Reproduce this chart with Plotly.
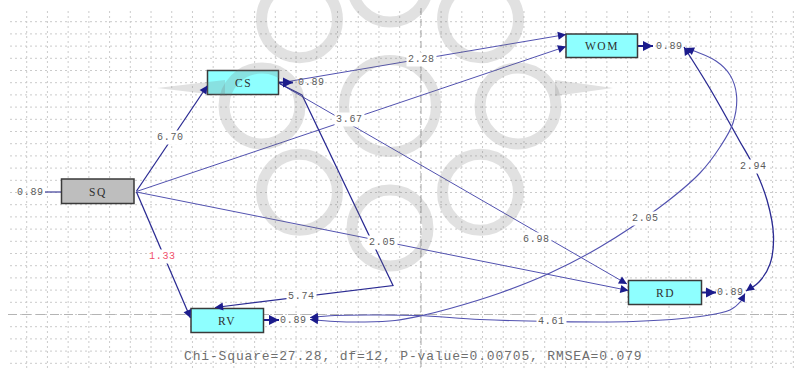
import math
import plotly.graph_objects as go

# ---------------- model estimates (t-values) ----------------
variables = ["SQ", "CS", "WOM", "RV", "RD"]
error_variances = [0.89, 0.89, 0.89, 0.89, 0.89]

path_from = ["SQ", "SQ", "SQ", "SQ", "CS", "CS", "CS"]
path_to = ["CS", "WOM", "RD", "RV", "WOM", "RD", "RV"]
path_t = [6.70, 3.67, 2.05, 1.33, 2.28, 6.98, 5.74]

cov_first = ["WOM", "WOM", "RV"]
cov_second = ["RD", "RV", "RD"]
cov_t = [2.94, 2.05, 4.61]

fit_names = ["Chi-Square", "df", "P-value", "RMSEA"]
fit_values = ["27.28", "12", "0.00705", "0.079"]

# ---------------- diagram geometry (pixel space) ----------------
W, H = 794, 370

BOXES = {  # x0, y0, x1, y1
    "SQ": (61.5, 179, 134, 203.5),
    "CS": (207.5, 70.5, 278.5, 94.5),
    "WOM": (566, 34, 637.5, 57.5),
    "RV": (191, 308.5, 263.5, 332.5),
    "RD": (628.5, 280.5, 701.5, 304.5),
}
BOX_FILL = {"SQ": "#bebebe", "CS": "#8effff", "WOM": "#8effff",
            "RV": "#8effff", "RD": "#8effff"}

ERR_GEOM = {  # label centre, arrow segment (x_from, x_to, y), arrow head
    "SQ": dict(lab=(30, 192), seg=(45, 61.5, 192), head=False),
    "CS": dict(lab=(311, 82.5), seg=(279, 293, 82.5), head=True),
    "WOM": dict(lab=(669.5, 46), seg=(638, 653, 46), head=True),
    "RV": dict(lab=(293.5, 320), seg=(264, 279, 320), head=True),
    "RD": dict(lab=(730, 292.5), seg=(702, 716, 292.5), head=True),
}

PATH_GEOM = {
    ("SQ", "CS"): dict(pts=[(136.5, 191), (207.5, 85.5)], lab=(170.5, 137)),
    ("SQ", "WOM"): dict(pts=[(136.5, 191.5), (566, 46.5)], lab=(349.5, 119.5)),
    ("SQ", "RD"): dict(pts=[(136.5, 192), (628.5, 290.5)], lab=(382.5, 242.5)),
    ("SQ", "RV"): dict(pts=[(136.5, 192), (190.5, 318)], lab=(162, 256)),
    ("CS", "WOM"): dict(pts=[(279.5, 83), (566, 34.5)], lab=(421.5, 59.5)),
    ("CS", "RD"): dict(pts=[(279.5, 83.5), (627, 284)], lab=(536.5, 239)),
    ("CS", "RV"): dict(pts=[(279.5, 83.5), (302, 95), (393, 285.5), (215, 307.5)],
                       lab=(301, 296)),
}
DARK_PATHS = {("SQ", "CS"), ("SQ", "RV"), ("CS", "RV")}

COV_GEOM = {
    ("WOM", "RD"): dict(pts=[(684, 47), (709, 87), (739, 140), (754, 167),
                             (767, 200), (773.5, 236), (770, 264), (759, 282),
                             (746, 291)], lab=(753.5, 166), dark=True),
    ("WOM", "RV"): dict(pts=[(686, 48), (716, 61), (730, 75), (736.5, 95),
                             (733, 123), (720, 147), (700, 173), (660, 207),
                             (600, 247), (550, 273), (500, 293), (450, 308.5),
                             (420, 316), (395, 320.5), (365, 322), (335, 321.5),
                             (310, 319.5)], lab=(645, 218.5), dark=False),
    ("RV", "RD"): dict(pts=[(310, 317.5), (335, 315.5), (370, 315), (418, 315.5),
                            (480, 319.5), (551, 321.5), (633, 321.5), (700, 316.5),
                            (730, 310), (741, 301), (745, 293.5)], lab=(551, 321.5),
                       dark=False),
}

LIGHT_LINE = "#5252b0"
DARK_LINE = "#2a2a92"
HEAD_COLOR = "#1c1c8c"
TEXT_GREY = "#5c5c5c"
LABEL_FONT = dict(family="Liberation Mono", size=10, color=TEXT_GREY)


def spaced(text, px):
    return f"<span style='letter-spacing:{px}px'>{text}</span>"


fig = go.Figure()
shapes, annotations = [], []

# dashed background grid
grid_x = [26.7 + 20.72 * k for k in range(38)]
grid_y = [21.7 + 12.2 * k for k in range(29)]
for gx in grid_x:
    shapes.append(dict(type="line", x0=gx, x1=gx, y0=11, y1=H, layer="below",
                       line=dict(color="#cbcbcb", width=1, dash="2px,3px")))
for gy in grid_y:
    shapes.append(dict(type="line", x0=10, x1=W, y0=gy, y1=gy, layer="below",
                       line=dict(color="#cbcbcb", width=1, dash="2px,3px")))
# centre reference lines
shapes.append(dict(type="line", x0=421, x1=421, y0=8, y1=H, layer="below",
                   line=dict(color="#a8a8a8", width=1, dash="7px,4px")))
shapes.append(dict(type="line", x0=8, x1=W, y0=314.5, y1=314.5, layer="below",
                   line=dict(color="#b4b4b4", width=1.2, dash="9px,5px")))


def arrow_head(tip, prev, color=HEAD_COLOR, size=1.35, width=1.2):
    annotations.append(dict(x=tip[0], y=tip[1], ax=prev[0], ay=prev[1],
                            xref="x", yref="y", axref="x", ayref="y", text="",
                            showarrow=True, arrowhead=2, arrowsize=size,
                            arrowwidth=width, arrowcolor=color, standoff=0))


def back_point(pts, dist=9.0):
    (x1, y1), (x0, y0) = pts[-1], pts[-2]
    d = math.hypot(x1 - x0, y1 - y0)
    return (x1 - (x1 - x0) * dist / d, y1 - (y1 - y0) * dist / d)


def value_label(pos, value, color=TEXT_GREY):
    annotations.append(dict(x=pos[0], y=pos[1], xref="x", yref="y",
                            text=spaced(f"{value:.2f}", 0.7), showarrow=False,
                            font=dict(LABEL_FONT, color=color),
                            bgcolor="white", borderpad=1))


# structural paths
for src, dst, t in zip(path_from, path_to, path_t):
    g = PATH_GEOM[(src, dst)]
    xs, ys = zip(*g["pts"])
    dark = (src, dst) in DARK_PATHS
    fig.add_trace(go.Scatter(x=xs, y=ys, mode="lines", hoverinfo="skip",
                             line=dict(color=DARK_LINE if dark else LIGHT_LINE,
                                       width=1.25 if dark else 1.0)))
    arrow_head(g["pts"][-1], back_point(g["pts"]))
    value_label(g["lab"], t, color="#f0506a" if abs(t) < 1.96 else TEXT_GREY)

# error covariances (double-headed curves)
for a, b, t in zip(cov_first, cov_second, cov_t):
    g = COV_GEOM[(a, b)]
    xs, ys = zip(*g["pts"])
    fig.add_trace(go.Scatter(x=xs, y=ys, mode="lines", hoverinfo="skip",
                             line=dict(color=DARK_LINE if g["dark"] else LIGHT_LINE,
                                       width=1.3 if g["dark"] else 1.1,
                                       shape="spline", smoothing=1.0)))
    arrow_head(g["pts"][-1], back_point(g["pts"], 7))
    arrow_head(g["pts"][0], back_point(g["pts"][::-1], 7))
    value_label(g["lab"], t)

# variable boxes and error terms
for name, ev in zip(variables, error_variances):
    x0, y0, x1, y1 = BOXES[name]
    shapes.append(dict(type="rect", x0=x0, y0=y0, x1=x1, y1=y1, layer="above",
                       fillcolor=BOX_FILL[name],
                       line=dict(color="#3a3a3a", width=1.5)))
    annotations.append(dict(x=(x0 + x1) / 2, y=(y0 + y1) / 2 + 0.5, xref="x",
                            yref="y", text=spaced(name, 1.5), showarrow=False,
                            font=dict(family="Liberation Serif", size=11.5,
                                      color="#303030")))
    e = ERR_GEOM[name]
    sx0, sx1, sy = e["seg"]
    if e["head"]:
        fig.add_trace(go.Scatter(x=[sx0, sx1], y=[sy, sy], mode="lines",
                                 hoverinfo="skip",
                                 line=dict(color=HEAD_COLOR, width=2)))
        arrow_head((sx1, sy), (sx1 - 6, sy), size=1.0, width=2)
    else:
        fig.add_trace(go.Scatter(x=[sx0, sx1], y=[sy, sy], mode="lines",
                                 hoverinfo="skip",
                                 line=dict(color="#5a5aa8", width=1.4)))
    annotations.append(dict(x=e["lab"][0], y=e["lab"][1], xref="x", yref="y",
                            text=spaced(f"{ev:.2f}", 0.7), showarrow=False,
                            font=LABEL_FONT))

# fit statistics
fit_text = ", ".join(f"{n}={v}" for n, v in zip(fit_names, fit_values))
annotations.append(dict(x=413.5, y=356.5, xref="x", yref="y",
                        text=spaced(fit_text, 0.85), showarrow=False,
                        font=dict(family="Liberation Mono", size=13,
                                  color="#6e6e6e")))

# faint rosette emblem in the background
wm = "rgba(120,120,120,0.22)"
cx, cy = 390, 106
for k in range(8):
    ang = math.radians(45 * k)
    rx, ry = cx + 128 * math.cos(ang), cy + 122 * math.sin(ang)
    shapes.append(dict(type="circle", x0=rx - 38, x1=rx + 38, y0=ry - 38,
                       y1=ry + 38, layer="above", line=dict(color=wm, width=11)))
shapes.append(dict(type="circle", x0=cx - 46, x1=cx + 46, y0=cy - 46,
                   y1=cy + 46, layer="above", line=dict(color=wm, width=10)))
shapes.append(dict(type="path", path="M 157 88 L 225 80 L 225 96 Z",
                   layer="above", fillcolor=wm, line=dict(width=0)))
shapes.append(dict(type="path", path="M 613 88 L 555 80 L 555 96 Z",
                   layer="above", fillcolor=wm, line=dict(width=0)))

fig.update_layout(
    width=W, height=H, margin=dict(l=0, r=0, t=0, b=0),
    paper_bgcolor="white", plot_bgcolor="white", showlegend=False,
    xaxis=dict(range=[0, W], visible=False, fixedrange=True),
    yaxis=dict(range=[H, 0], visible=False, fixedrange=True),
    shapes=shapes, annotations=annotations,
)

fig.write_html("out.html")
